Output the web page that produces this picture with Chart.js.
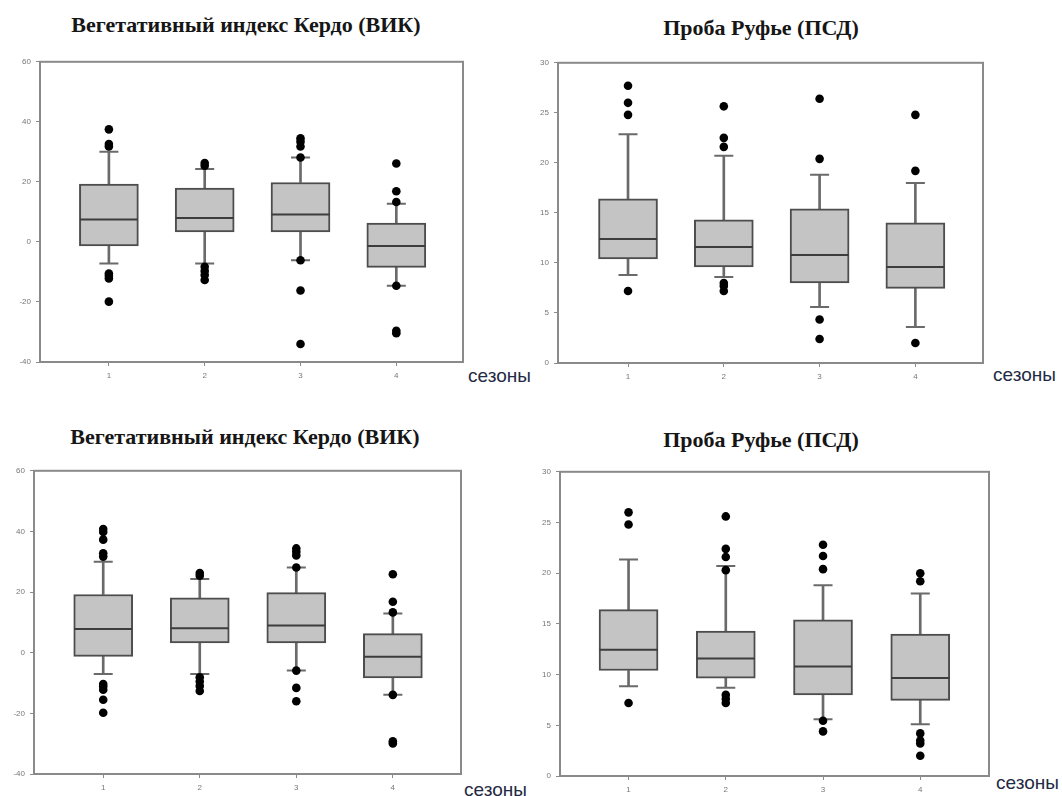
<!DOCTYPE html>
<html>
<head>
<meta charset="utf-8">
<script src="https://cdn.jsdelivr.net/npm/chart.js@4.4.1/dist/chart.umd.min.js"></script>
<style>
  body { margin: 0; background: #fff; }
  #page { position: relative; width: 1062px; height: 796px; overflow: hidden; background: #fff; }
  canvas { position: absolute; }
  .title {
    position: absolute;
    font-family: "Liberation Serif", serif;
    font-weight: bold;
    font-size: 22px;
    color: #161616;
    white-space: nowrap;
    transform: translate(-50%, -50%);
  }
  .axis-name {
    position: absolute;
    font-family: "Liberation Sans", sans-serif;
    font-size: 19px;
    color: #1f2a44;
    white-space: nowrap;
    transform: translateY(-50%);
  }
</style>
</head>
<body>
<div id="page">
  <div class="title" style="left:246px; top:25px;">Вегетативный индекс Кердо (ВИК)</div>
  <div class="title" style="left:761px; top:28px;">Проба Руфье (ПСД)</div>
  <div class="title" style="left:245px; top:437px;">Вегетативный индекс Кердо (ВИК)</div>
  <div class="title" style="left:761px; top:440px;">Проба Руфье (ПСД)</div>
  <div class="axis-name" style="left:468px; top:376px;">сезоны</div>
  <div class="axis-name" style="left:993px; top:375px;">сезоны</div>
  <div class="axis-name" style="left:464px; top:790px;">сезоны</div>
  <div class="axis-name" style="left:996px; top:783px;">сезоны</div>
  <canvas id="c1"></canvas>
  <canvas id="c2"></canvas>
  <canvas id="c3"></canvas>
  <canvas id="c4"></canvas>
</div>
<script>
const seasons = [1, 2, 3, 4];
const kerdoTicks = [-40, -20, 0, 20, 40, 60];
const ruffierTicks = [0, 5, 10, 15, 20, 25, 30];

// top left: Kerdo index
const kerdoTopQ1 = [-1.3, 3.3, 3.3, -8.5];
const kerdoTopMed = [7.5, 8.0, 9.1, -1.4];
const kerdoTopQ3 = [19.3, 17.9, 19.8, 6.3];
const kerdoTopLow = [-7.2, -7.2, -6.1, -14.6];
const kerdoTopHigh = [30.0, 24.3, 28.1, 12.7];
const kerdoTopOut = [
  [37.5, 32.6, 31.8, -10.5, -11.3, -12.2, -19.9],
  [26.3, 25.4, -8.3, -9.7, -11.0, -12.7],
  [34.5, 33.4, 31.8, 28.1, -6.1, -16.2, -34.0],
  [26.1, 16.9, 13.3, -14.6, -29.6, -30.4]
];

// top right: Ruffier test
const ruffierTopQ1 = [10.4, 9.6, 8.0, 7.45];
const ruffierTopMed = [12.4, 11.6, 10.8, 9.6];
const ruffierTopQ3 = [16.4, 14.3, 15.4, 14.0];
const ruffierTopLow = [8.8, 8.6, 5.6, 3.6];
const ruffierTopHigh = [22.85, 20.7, 18.8, 18.0];
const ruffierTopOut = [
  [27.7, 26.0, 24.8, 7.2],
  [25.65, 22.5, 21.6, 8.0, 7.7, 7.2],
  [26.4, 20.4, 4.35, 2.4],
  [24.8, 19.2, 2.0]
];

// bottom left: Kerdo index
const kerdoBotQ1 = [-1.2, 3.2, 3.2, -8.3];
const kerdoBotMed = [7.8, 8.1, 9.0, -1.3];
const kerdoBotQ3 = [19.2, 18.1, 19.8, 6.3];
const kerdoBotLow = [-7.0, -7.0, -5.9, -13.9];
const kerdoBotHigh = [30.0, 24.3, 28.1, 12.9];
const kerdoBotOut = [
  [40.8, 39.8, 37.3, 32.8, 31.7, -10.3, -11.1, -12.2, -15.5, -19.8],
  [26.3, 25.4, -8.1, -9.5, -11.0, -12.6],
  [34.4, 33.3, 32.1, 28.1, -5.9, -11.6, -16.0],
  [25.9, 16.8, 13.3, -13.9, -29.2, -29.9]
];

// bottom right: Ruffier test
const ruffierBotQ1 = [10.4, 9.65, 8.0, 7.46];
const ruffierBotMed = [12.45, 11.6, 10.8, 9.67];
const ruffierBotQ3 = [16.4, 14.3, 15.4, 14.0];
const ruffierBotLow = [8.85, 8.7, 5.6, 5.1];
const ruffierBotHigh = [21.35, 20.7, 18.8, 18.0];
const ruffierBotOut = [
  [26.0, 24.8, 7.2],
  [25.6, 22.4, 21.6, 20.3, 8.0, 7.6, 7.2],
  [22.8, 21.7, 20.4, 5.45, 4.4],
  [20.0, 19.2, 4.2, 3.5, 3.2, 2.0]
];

// room around each plot frame for tick labels
const yW = 32, padTop = 6, padRight = 8, xH = 30;

const framePlugin = {
  id: 'frame',
  beforeDatasetsDraw(chart) {
    const a = chart.chartArea;
    const ctx = chart.ctx;
    ctx.save();
    ctx.strokeStyle = '#8a8a8a';
    ctx.lineWidth = 2;
    ctx.strokeRect(a.left, a.top, a.right - a.left, a.bottom - a.top);
    ctx.restore();
  }
};

function boxChart(id, frame, xMin, xMax, yTicks, q1, med, q3, low, high, out) {
  const canvas = document.getElementById(id);
  const w = frame.r - frame.l + yW + padRight;
  const h = frame.b - frame.t + padTop + xH;
  canvas.width = w;
  canvas.height = h;
  canvas.style.left = (frame.l - yW) + 'px';
  canvas.style.top = (frame.t - padTop) + 'px';
  canvas.style.width = w + 'px';
  canvas.style.height = h + 'px';

  const at = (vals) => seasons.map((s, i) => ({ x: s, y: vals[i] }));
  const span = (a, b) => seasons.map((s, i) => ({ x: s, y: [a[i], b[i]] }));
  const outliers = seasons.flatMap((s, i) => out[i].map(v => ({ x: s, y: v })));

  return new Chart(canvas, {
    type: 'scatter',
    data: {
      datasets: [
        { type: 'bar', data: span(q3, high), barThickness: 2, backgroundColor: '#6a6a6a', borderWidth: 0, grouped: false, order: 6 },
        { type: 'bar', data: span(low, q1), barThickness: 2, backgroundColor: '#6a6a6a', borderWidth: 0, grouped: false, order: 5 },
        { type: 'bar', data: span(q1, q3), barThickness: 59, backgroundColor: '#c4c4c4', borderColor: '#4d4d4d', borderWidth: 2, borderSkipped: false, grouped: false, order: 4 },
        { data: at(med), pointStyle: 'line', pointRadius: 29, borderWidth: 2, borderColor: '#3d3d3d', order: 3 },
        { data: at(high).concat(at(low)), pointStyle: 'line', pointRadius: 9.5, borderWidth: 2, borderColor: '#6a6a6a', order: 2 },
        { data: outliers, pointRadius: 4.3, backgroundColor: '#000', borderWidth: 0, order: 1 }
      ]
    },
    options: {
      responsive: false,
      animation: false,
      events: [],
      layout: { autoPadding: false, padding: { top: padTop, right: padRight, left: 0, bottom: 0 } },
      plugins: { legend: { display: false }, tooltip: { enabled: false } },
      scales: {
        x: {
          type: 'linear',
          min: xMin,
          max: xMax,
          offset: false,
          border: { display: false },
          grid: { offset: false, drawOnChartArea: false, drawTicks: true, tickLength: 4, color: '#8a8a8a' },
          afterBuildTicks: (s) => { s.ticks = seasons.map(v => ({ value: v })); },
          afterFit: (s) => { s.height = xH; },
          ticks: { autoSkip: false, maxRotation: 0, padding: 5, color: '#777', font: { family: 'Liberation Sans', size: 8 } }
        },
        y: {
          type: 'linear',
          min: yTicks[0],
          max: yTicks[yTicks.length - 1],
          border: { display: false },
          grid: { drawOnChartArea: false, drawTicks: true, tickLength: 4, color: '#8a8a8a' },
          afterBuildTicks: (s) => { s.ticks = yTicks.map(v => ({ value: v })); },
          afterFit: (s) => { s.width = yW; },
          ticks: { padding: 5, color: '#777', font: { family: 'Liberation Sans', size: 8 } }
        }
      }
    },
    plugins: [framePlugin]
  });
}

boxChart('c1', { l: 40, t: 58, r: 463, b: 362 }, 0.281, 4.696, kerdoTicks,
  kerdoTopQ1, kerdoTopMed, kerdoTopQ3, kerdoTopLow, kerdoTopHigh, kerdoTopOut);
boxChart('c2', { l: 558, t: 59, r: 983, b: 363 }, 0.269, 4.706, ruffierTicks,
  ruffierTopQ1, ruffierTopMed, ruffierTopQ3, ruffierTopLow, ruffierTopHigh, ruffierTopOut);
boxChart('c3', { l: 34, t: 467, r: 461, b: 774 }, 0.283, 4.706, kerdoTicks,
  kerdoBotQ1, kerdoBotMed, kerdoBotQ3, kerdoBotLow, kerdoBotHigh, kerdoBotOut);
boxChart('c4', { l: 560, t: 468, r: 989, b: 776 }, 0.295, 4.707, ruffierTicks,
  ruffierBotQ1, ruffierBotMed, ruffierBotQ3, ruffierBotLow, ruffierBotHigh, ruffierBotOut);
</script>
</body>
</html>
